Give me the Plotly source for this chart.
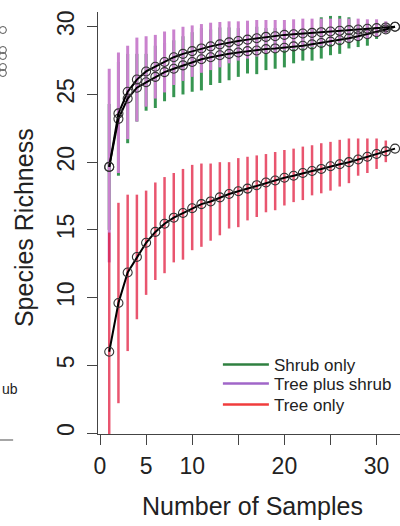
import plotly.graph_objects as go

samples = list(range(1, 33))

# Tree only (red)
tree_mean = [6.0, 9.6, 11.85, 13.0, 14.05, 14.85, 15.45, 15.9, 16.25, 16.6, 16.9, 17.1, 17.4, 17.65,
             17.85, 18.05, 18.3, 18.5, 18.65, 18.85, 19.0, 19.2, 19.35, 19.5, 19.7, 19.85, 20.0, 20.2,
             20.4, 20.6, 20.8, 21.0]
tree_low = [-2.8, 2.2, 6.05, 8.4, 10.2, 11.3, 11.8, 12.6, 12.8, 13.5, 13.75, 14.2, 14.6, 15.1, 15.2,
            15.7, 15.95, 16.3, 16.45, 16.8, 17.05, 17.2, 17.55, 17.7, 17.9, 18.2, 18.45, 19.0, 19.2,
            19.5, 20.0, 21.0]
tree_high = [14.8, 17.0, 17.6, 17.6, 17.9, 18.5, 18.9, 19.2, 19.5, 19.8, 19.9, 19.9, 20.0, 20.0, 20.3,
             20.4, 20.5, 20.6, 20.75, 20.9, 21.0, 21.15, 21.25, 21.4, 21.5, 21.65, 21.75, 21.75, 21.75,
             21.75, 21.6, 21.0]

# Tree plus shrub (purple)
both_mean = [19.65, 23.6, 25.2, 26.1, 26.7, 27.05, 27.4, 27.75, 28.0, 28.2, 28.4, 28.55, 28.7, 28.85,
             28.95, 29.05, 29.15, 29.25, 29.3, 29.4, 29.45, 29.5, 29.55, 29.6, 29.65, 29.7, 29.75, 29.8,
             29.85, 29.9, 29.95, 30.0]
both_low = [12.6, 19.2, 21.7, 23.0, 24.1, 24.7, 25.15, 25.7, 26.0, 26.3, 26.6, 26.8, 27.0, 27.3, 27.5,
            27.65, 27.8, 28.0, 28.1, 28.25, 28.35, 28.4, 28.5, 28.6, 28.7, 28.8, 28.9, 29.0, 29.15,
            29.25, 29.5, 30.0]
both_high = [26.9, 28.1, 28.6, 29.2, 29.3, 29.4, 29.65, 29.8, 30.0, 30.1, 30.2, 30.3, 30.35, 30.4, 30.4,
             30.45, 30.5, 30.5, 30.5, 30.5, 30.55, 30.6, 30.6, 30.6, 30.6, 30.6, 30.6, 30.6, 30.55,
             30.55, 30.4, 30.0]

# Shrub only (green)
shrub_mean = [19.65, 23.2, 24.7, 25.5, 25.9, 26.3, 26.65, 26.9, 27.15, 27.4, 27.6, 27.75, 27.9, 28.0,
              28.1, 28.2, 28.25, 28.35, 28.4, 28.45, 28.55, 28.6, 28.7, 28.8, 28.9, 29.0, 29.15, 29.3,
              29.45, 29.6, 29.8, 30.0]
shrub_low = [15.0, 19.0, 21.4, 23.0, 23.8, 24.0, 24.5, 24.8, 25.0, 25.2, 25.3, 25.7, 25.85, 26.05, 26.3,
             26.55, 26.5, 26.8, 26.9, 27.0, 27.3, 27.5, 27.5, 27.65, 27.9, 28.0, 28.4, 28.5, 28.6,
             29.1, 29.5, 30.0]
shrub_high = [24.3, 27.4, 28.0, 28.0, 28.0, 28.6, 28.8, 29.0, 29.3, 29.6, 29.9, 29.8, 29.95, 29.95, 29.9,
              29.85, 30.0, 29.9, 29.9, 29.9, 29.8, 29.7, 29.9, 30.7, 30.8, 30.8, 30.7, 30.1, 30.3,
              30.1, 30.1, 30.0]

series_names = ["Shrub only", "Tree plus shrub", "Tree only"]
legend_colors = ["#2F8040", "#A066C8", "#F03C3C"]
bar_colors = ["rgba(20,130,50,0.85)", "rgb(202,130,206)", "rgba(225,20,55,0.72)"]
bar_widths = [3, 3, 2.5]

x_ticks = [0, 5, 10, 15, 20, 25, 30]
x_tick_text = ["0", "5", "10", "", "20", "", "30"]
y_ticks = [0, 5, 10, 15, 20, 25, 30]

means = [shrub_mean, both_mean, tree_mean]
lows = [shrub_low, both_low, tree_low]
highs = [shrub_high, both_high, tree_high]

FONT = "Liberation Sans, Arial, sans-serif"
fig = go.Figure()

# legend entries (one legend per row to control spacing)
legend_ids = ["legend", "legend2", "legend3"]
for name, col, lid in zip(series_names, legend_colors, legend_ids):
    fig.add_trace(go.Scatter(x=[None], y=[None], mode="lines", name=name, legend=lid,
                             line=dict(color=col, width=2.5), showlegend=True))

# error bars
for m, lo, hi, col, w in zip(means, lows, highs, bar_colors, bar_widths):
    fig.add_trace(go.Scatter(
        x=samples, y=m, mode="markers", showlegend=False, hoverinfo="skip",
        marker=dict(size=1, color="rgba(0,0,0,0)"),
        error_y=dict(type="data", symmetric=False,
                     array=[h - v for h, v in zip(hi, m)],
                     arrayminus=[v - l for v, l in zip(m, lo)],
                     color=col, thickness=w, width=0)))

# mean curves
for m in means:
    fig.add_trace(go.Scatter(
        x=samples, y=m, mode="lines+markers", showlegend=False,
        line=dict(color="black", width=2),
        marker=dict(symbol="circle-open", size=9, color="#333",
                    line=dict(width=1.1))))

axis_common = dict(showline=True, linecolor="#444", linewidth=1.3, ticks="outside",
                   ticklen=10, tickwidth=1.3, tickcolor="#444", showgrid=False,
                   zeroline=False, tickfont=dict(family=FONT, size=23, color="#222"))

fig.update_xaxes(range=[-0.217, 32.54], tickvals=x_ticks, ticktext=x_tick_text,
                 ticklabelstandoff=1, **axis_common)
fig.update_yaxes(range=[-0.074, 31.09], tickvals=y_ticks, tickangle=-90,
                 ticklabelstandoff=4, **axis_common)

annotations = [
    dict(text="Number of Samples", xref="paper", yref="paper", x=0.51, y=-0.17,
         xanchor="center", yanchor="middle", showarrow=False,
         font=dict(family=FONT, size=25, color="#222")),
    dict(text="Species Richness", xref="paper", yref="paper", x=-0.245, y=0.488,
         xanchor="center", yanchor="middle", textangle=-90, showarrow=False,
         font=dict(family=FONT, size=25, color="#222")),
    dict(text="ub", xref="paper", yref="paper", x=-0.3245, y=0.107,
         xanchor="left", yanchor="middle", showarrow=False,
         font=dict(family=FONT, size=14, color="#222")),
]

shapes = [dict(type="line", xref="paper", yref="paper", x0=-0.33, x1=-0.281,
               y0=-0.0142, y1=-0.0142, line=dict(color="#888", width=1.5))]
for py in [30, 50, 56, 67, 73]:
    shapes.append(dict(type="circle", xref="paper", yref="paper",
                       xsizemode="pixel", ysizemode="pixel",
                       xanchor=-0.315, yanchor=(434 - py) / 422,
                       x0=-3.5, x1=3.5, y0=-3.5, y1=3.5,
                       line=dict(color="#555", width=1)))

leg_common = dict(x=0.397, xanchor="left", yanchor="middle", bgcolor="rgba(0,0,0,0)",
                  font=dict(family=FONT, size=17, color="#222"), itemwidth=46)
fig.update_layout(
    width=400, height=526, margin=dict(l=98, r=0, t=12, b=92),
    plot_bgcolor="white", paper_bgcolor="white",
    showlegend=True,
    legend=dict(y=0.1635, **leg_common),
    legend2=dict(y=0.1185, **leg_common),
    legend3=dict(y=0.0687, **leg_common),
    annotations=annotations, shapes=shapes,
)

fig.write_html("out.html")
